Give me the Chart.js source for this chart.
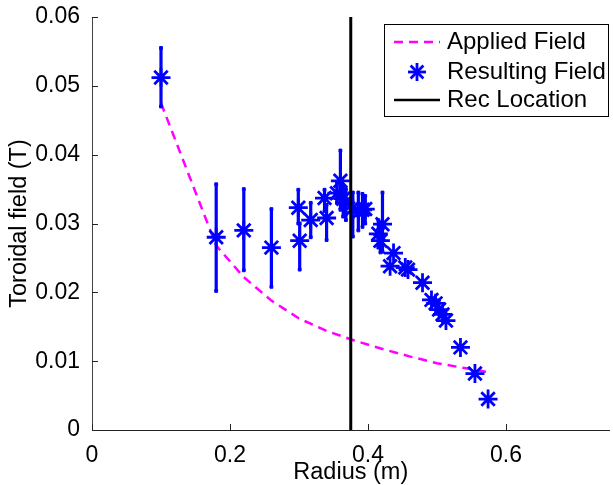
<!DOCTYPE html>
<html>
<head>
<meta charset="utf-8">
<script src="https://cdn.jsdelivr.net/npm/chart.js@4.4.1/dist/chart.umd.min.js"></script>
<style>
  html, body { margin: 0; padding: 0; background: #fff; }
  #wrap { width: 613px; height: 485px; }
</style>
</head>
<body>
<div id="wrap"><canvas id="fieldChart" width="613" height="485"></canvas></div>
<script>
// measured field (stars) with error bar ends
const radius = [0.100, 0.180, 0.220, 0.260, 0.299, 0.301, 0.317, 0.337, 0.340, 0.360,
  0.355, 0.364, 0.368, 0.378, 0.386, 0.392, 0.396, 0.415, 0.421, 0.418,
  0.437, 0.432, 0.454, 0.458, 0.479, 0.492, 0.498, 0.503, 0.508, 0.513,
  0.534, 0.555, 0.574];
const field = [0.0512, 0.0280, 0.0290, 0.0265, 0.0323, 0.0275, 0.0305, 0.0337, 0.0308, 0.0362,
  0.0344, 0.0336, 0.0330, 0.0322, 0.0316, 0.0320, 0.0321, 0.0285, 0.0299, 0.0275,
  0.0257, 0.0238, 0.0236, 0.0233, 0.0214, 0.0189, 0.0184, 0.0175, 0.0168, 0.0159,
  0.0120, 0.0082, 0.0045];
const errLow = [0.0470, 0.0202, 0.0232, 0.0208, 0.0300, 0.0233, 0.0280, 0.0318, 0.0276, 0.0320,
  0.0330, 0.0310, 0.0305, 0.0281, 0.0290, 0.0295, 0.0300, 0.0265, 0.0259, 0.0258,
  0.0257, 0.0238, 0.0236, 0.0233, 0.0214, 0.0189, 0.0184, 0.0175, 0.0168, 0.0159,
  0.0120, 0.0082, 0.0045];
const errHigh = [0.0555, 0.0357, 0.0350, 0.0321, 0.0349, 0.0300, 0.0330, 0.0349, 0.0327, 0.0406,
  0.0360, 0.0355, 0.0350, 0.0345, 0.0345, 0.0343, 0.0340, 0.0305, 0.0345, 0.0292,
  0.0257, 0.0238, 0.0236, 0.0233, 0.0214, 0.0189, 0.0184, 0.0175, 0.0168, 0.0159,
  0.0120, 0.0082, 0.0045];

// applied field curve (dashed)
const appliedR = [0.10, 0.18, 0.22, 0.26, 0.30, 0.34, 0.38, 0.42, 0.46, 0.50, 0.54, 0.575];
const appliedB = [0.0475, 0.0268, 0.0222, 0.0188, 0.0162, 0.0144, 0.0130, 0.0118, 0.0107, 0.0097, 0.0090, 0.0084];

const recLocation = 0.375;
const xTicks = [0, 0.2, 0.4, 0.6];
const yTicks = [0, 0.01, 0.02, 0.03, 0.04, 0.05, 0.06];

const FONT = "'Liberation Sans', Arial, Helvetica, sans-serif";
const BLUE = "#0000ff";
const MAGENTA = "#ff00ff";

let starPts = radius.map((r, i) => ({ x: r, y: field[i] }));
let errPts = [];
radius.forEach((r, i) => {
  if (errHigh[i] - errLow[i] > 0.0001) {
    errPts.push({ x: r, y: errLow[i] }, { x: r, y: errHigh[i] }, { x: r, y: null });
  }
});
let appliedPts = appliedR.map((r, i) => ({ x: r, y: appliedB[i] }));

// inward tick marks like matlab
const tickMarks = {
  id: "tickMarks",
  afterDraw(chart) {
    const ctx = chart.ctx;
    const xs = chart.scales.x, ys = chart.scales.y;
    const a = chart.chartArea;
    ctx.save();
    ctx.strokeStyle = "#222";
    ctx.lineWidth = 1;
    xTicks.forEach(v => {
      const px = Math.round(xs.getPixelForValue(v)) + 0.5;
      ctx.beginPath(); ctx.moveTo(px, a.bottom); ctx.lineTo(px, a.bottom - 6); ctx.stroke();
    });
    yTicks.forEach(v => {
      const py = Math.round(ys.getPixelForValue(v)) + 0.5;
      ctx.beginPath(); ctx.moveTo(a.left, py); ctx.lineTo(a.left + 6, py); ctx.stroke();
    });
    ctx.restore();
  }
};

// boxed legend top right
const boxLegend = {
  id: "boxLegend",
  afterDraw(chart) {
    const ctx = chart.ctx;
    const L = 384, T = 24, W = 224, H = 92;
    ctx.save();
    ctx.fillStyle = "#fff";
    ctx.fillRect(L, T, W, H);
    ctx.strokeStyle = "#000";
    ctx.lineWidth = 1;
    ctx.strokeRect(L + 0.5, T + 0.5, W, H);
    const rows = [42, 72, 100];
    ctx.font = "24px " + FONT;
    ctx.textBaseline = "middle";
    ctx.fillStyle = "#000";
    // applied
    ctx.strokeStyle = MAGENTA; ctx.lineWidth = 2.5; ctx.setLineDash([9, 6]);
    ctx.beginPath(); ctx.moveTo(394, rows[0]); ctx.lineTo(440, rows[0]); ctx.stroke();
    ctx.setLineDash([]);
    // star
    ctx.strokeStyle = BLUE; ctx.lineWidth = 2.8;
    ctx.beginPath(); ctx.moveTo(408, rows[1]); ctx.lineTo(426, rows[1]); ctx.stroke();
    ctx.beginPath(); ctx.moveTo(417, rows[1] - 9); ctx.lineTo(417, rows[1] + 9); ctx.stroke();
    ctx.beginPath(); ctx.moveTo(410.6, rows[1] - 6.4); ctx.lineTo(423.4, rows[1] + 6.4); ctx.stroke();
    ctx.beginPath(); ctx.moveTo(410.6, rows[1] + 6.4); ctx.lineTo(423.4, rows[1] - 6.4); ctx.stroke();
    // rec
    ctx.strokeStyle = "#000"; ctx.lineWidth = 2.5;
    ctx.beginPath(); ctx.moveTo(394, rows[2]); ctx.lineTo(440, rows[2]); ctx.stroke();
    ctx.fillText("Applied Field", 447, rows[0]);
    ctx.fillText("Resulting Field", 447, rows[1]);
    ctx.fillText("Rec Location", 447, rows[2]);
    ctx.restore();
  }
};

const ctx = document.getElementById("fieldChart").getContext("2d");
new Chart(ctx, {
  type: "scatter",
  data: {
    datasets: [
      {
        label: "Rec Location",
        data: [{ x: recLocation, y: 0 }, { x: recLocation, y: 0.06 }],
        showLine: true,
        borderColor: "#000",
        borderWidth: 3,
        pointRadius: 0
      },
      {
        label: "Resulting Field",
        data: starPts,
        showLine: false,
        pointStyle: "star",
        pointRadius: 9.5,
        pointBorderWidth: 2.8,
        borderColor: BLUE,
        backgroundColor: BLUE
      },
      {
        label: "error",
        data: errPts,
        showLine: true,
        spanGaps: false,
        borderColor: BLUE,
        borderWidth: 3.2,
        pointStyle: "rect",
        pointRadius: 2,
        pointBorderWidth: 1,
        pointBackgroundColor: BLUE,
        pointBorderColor: BLUE
      },
      {
        label: "Applied Field",
        data: appliedPts,
        showLine: true,
        borderColor: MAGENTA,
        borderWidth: 2.5,
        borderDash: [9, 6],
        tension: 0,
        pointRadius: 0
      }
    ]
  },
  options: {
    responsive: false,
    animation: false,
    layout: { autoPadding: false, padding: { top: 17, right: 3.5, left: 0, bottom: 0 } },
    plugins: {
      legend: { display: false },
      tooltip: { enabled: false }
    },
    scales: {
      x: {
        type: "linear",
        min: 0,
        max: 0.75,
        grid: { display: false },
        border: { display: true, color: "#222", width: 1 },
        afterBuildTicks: s => { s.ticks = xTicks.map(v => ({ value: v })); },
        afterFit: s => { s.height = 55; s.paddingLeft = 0; s.paddingRight = 0; },
        ticks: {
          color: "#000",
          padding: 4,
          maxRotation: 0,
          font: { family: FONT, size: 23 },
          callback: v => v === 0 ? "0" : String(v)
        },
        title: {
          display: true,
          text: "Radius (m)",
          color: "#000",
          padding: { top: 0, bottom: -2 },
          font: { family: FONT, size: 23.5 }
        }
      },
      y: {
        type: "linear",
        min: 0,
        max: 0.06,
        grid: { display: false },
        border: { display: true, color: "#444", width: 1 },
        afterBuildTicks: s => { s.ticks = yTicks.map(v => ({ value: v })); },
        afterFit: s => { s.width = 92; s.paddingTop = 0; s.paddingBottom = 0; },
        ticks: {
          color: "#000",
          padding: 4,
          font: { family: FONT, size: 23 },
          callback: v => v === 0 ? "0" : v.toFixed(2)
        },
        title: {
          display: true,
          text: "Toroidal field (T)",
          color: "#000",
          padding: { top: 5, bottom: 0 },
          font: { family: FONT, size: 23.5 }
        }
      }
    }
  },
  plugins: [tickMarks, boxLegend]
});
</script>
</body>
</html>
